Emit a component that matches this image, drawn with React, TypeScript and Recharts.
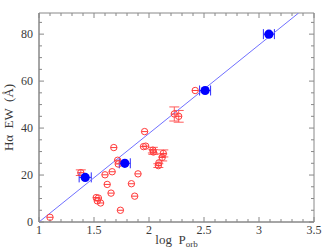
import { ScatterChart, Scatter, XAxis, YAxis, ErrorBar, ReferenceArea } from "recharts";

const redX = [1.1, 1.38, 1.52, 1.54, 1.53, 1.56, 1.6, 1.62, 1.655, 1.665, 1.68, 1.715, 1.72, 1.74, 1.84, 1.87, 1.9, 1.96, 1.95, 1.97, 2.035, 2.04, 2.085, 2.09, 2.12, 2.13, 2.23, 2.27, 2.42];
const redY = [2.0, 21.0, 10.4, 10.2, 9.0, 8.1, 20.1, 16.0, 12.3, 21.4, 31.7, 26.3, 24.7, 5.0, 16.3, 11.0, 20.5, 38.5, 32.1, 32.3, 30.6, 29.8, 24.0, 25.2, 27.5, 29.2, 46.0, 45.0, 56.0];
const redErr = [0, 1.2, 0, 0, 0, 0, 0, 0, 0, 0, 0, 0, 0, 0, 0, 0, 0, 0, 0, 0, 1.2, 1.0, 0.8, 0, 1.5, 1.5, 3.0, 2.5, 0];

const blueX = [1.42, 1.78, 2.51, 3.09];
const blueY = [19, 25, 56, 80];
const blueXErr = [0.055, 0.05, 0.05, 0.05];

const fitX = [1.0, 3.36];
const fitY = [0, 89];

const xTicks = [1.0, 1.1, 1.2, 1.3, 1.4, 1.5, 1.6, 1.7, 1.8, 1.9, 2.0, 2.1, 2.2, 2.3, 2.4, 2.5, 2.6, 2.7, 2.8, 2.9, 3.0, 3.1, 3.2, 3.3, 3.4, 3.5];
const xLabels = [1, 1.5, 2, 2.5, 3, 3.5];
const yTicks = [0, 5, 10, 15, 20, 25, 30, 35, 40, 45, 50, 55, 60, 65, 70, 75, 80, 85];
const yLabels = [0, 20, 40, 60, 80];

const W = 334;
const H = 250;
const M = { top: 13, right: 20, bottom: 0, left: 0 };
const Y_W = 39;
const X_H = 28;
const L = M.left + Y_W;
const R = W - M.right;
const T = M.top;
const B = H - M.bottom - X_H;

const FRAME = "#888";
const TEXT = "#3a3a3a";
const FONT = "'Liberation Serif', serif";

const redData = redX.map((x, i) => ({ x, y: redY[i], ey: redErr[i] }));
const blueData = blueX.map((x, i) => ({ x, y: blueY[i], ex: blueXErr[i] }));
const fitData = fitX.map((x, i) => ({ x, y: fitY[i] }));

const isLabel = (v: number, list: number[]) => list.some((l) => Math.abs(l - v) < 1e-6);

function XTick(props: any) {
  const { x, payload } = props;
  const v = payload.value;
  const major = isLabel(v, xLabels);
  const len = major ? 5 : 3;
  return (
    <g>
      <line x1={x} x2={x} y1={B} y2={B - len} stroke={FRAME} />
      <line x1={x} x2={x} y1={T} y2={T + len} stroke={FRAME} />
      {major && (
        <text x={x} y={B + 12} textAnchor="middle" fill={TEXT} fontSize={12} fontFamily={FONT}>
          {String(v)}
        </text>
      )}
    </g>
  );
}

function YTick(props: any) {
  const { y, payload } = props;
  const v = payload.value;
  const major = isLabel(v, yLabels);
  const len = major ? 5 : 3;
  return (
    <g>
      <line x1={L} x2={L + len} y1={y} y2={y} stroke={FRAME} />
      <line x1={R} x2={R - len} y1={y} y2={y} stroke={FRAME} />
      {major && (
        <text x={L - 6} y={y + 4} textAnchor="end" fill={TEXT} fontSize={12} fontFamily={FONT}>
          {String(v)}
        </text>
      )}
    </g>
  );
}

function RedMark(props: any) {
  const { cx, cy } = props;
  return (
    <g>
      <circle cx={cx} cy={cy} r={3.2} fill="none" stroke="#ff3b3b" strokeWidth={1} />
      <line x1={cx - 3.2} x2={cx + 3.2} y1={cy} y2={cy} stroke="#ff3b3b" strokeWidth={1} />
    </g>
  );
}

function BlueMark(props: any) {
  const { cx, cy } = props;
  return <circle cx={cx} cy={cy} r={4.6} fill="#0000ff" />;
}

export default function App() {
  return (
    <div style={{ position: "absolute", left: 0, top: 0, background: "#fff" }}>
      <ScatterChart width={W} height={H} margin={M}>
        <XAxis
          type="number"
          dataKey="x"
          domain={[1, 3.5]}
          allowDataOverflow
          ticks={xTicks}
          interval={0}
          height={X_H}
          tick={<XTick />}
          tickLine={false}
          axisLine={{ stroke: FRAME }}
          label={{
            content: () => (
              <text
                x={(L + R) / 2}
                y={H - 6}
                textAnchor="middle"
                fill={TEXT}
                fontSize={13}
                fontFamily={FONT}
                style={{ whiteSpace: "pre" }}
              >
                {"log  P"}
                <tspan fontSize={9} dy={3}>orb</tspan>
              </text>
            ),
          }}
        />
        <YAxis
          type="number"
          dataKey="y"
          domain={[0, 89]}
          allowDataOverflow
          ticks={yTicks}
          interval={0}
          width={Y_W}
          tick={<YTick />}
          tickLine={false}
          axisLine={{ stroke: FRAME }}
          label={{
            content: () => (
              <text
                x={13}
                y={(T + B) / 2}
                transform={`rotate(-90 13 ${(T + B) / 2})`}
                textAnchor="middle"
                fill={TEXT}
                fontSize={13}
                fontFamily={FONT}
                style={{ whiteSpace: "pre" }}
              >
                {"Hα  EW  (Å)"}
              </text>
            ),
          }}
        />
        <ReferenceArea x1={1} x2={3.5} y1={0} y2={89} fill="none" stroke={FRAME} strokeOpacity={1} fillOpacity={0} />
        <Scatter
          data={fitData}
          line={{ stroke: "#7070ff", strokeWidth: 1 }}
          shape={() => <g />}
          isAnimationActive={false}
        />
        <Scatter data={redData} shape={<RedMark />} isAnimationActive={false}>
          <ErrorBar dataKey="ey" direction="y" width={5} stroke="#ff5a5a" strokeWidth={1} />
        </Scatter>
        <Scatter data={blueData} shape={<BlueMark />} isAnimationActive={false}>
          <ErrorBar dataKey="ex" direction="x" width={5} stroke="#2a2aff" strokeWidth={1} />
        </Scatter>
      </ScatterChart>
    </div>
  );
}
